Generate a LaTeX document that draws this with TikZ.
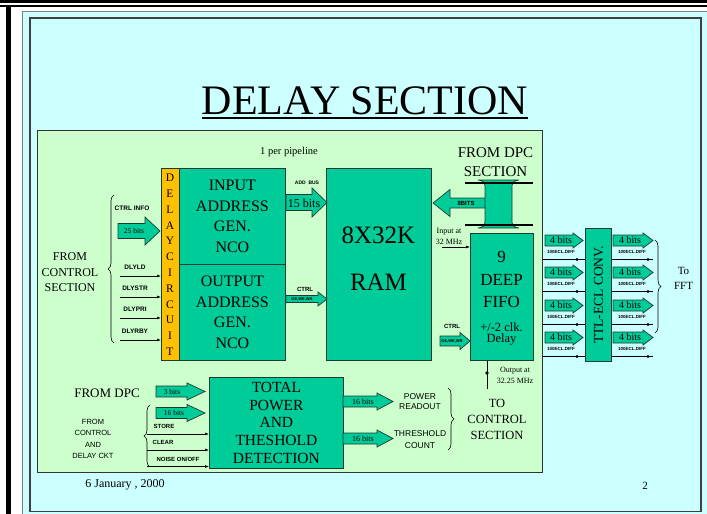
\documentclass[tikz,border=0pt]{standalone}
\usepackage{fontspec}
\setmainfont{Liberation Serif}
\setsansfont{Liberation Sans}
\usetikzlibrary{decorations.pathreplacing,arrows.meta,calc}
\definecolor{cyanbg}{HTML}{CCFFFF}
\definecolor{greenbg}{HTML}{CCFFCC}
\definecolor{tealc}{HTML}{00CC99}
\definecolor{orangec}{HTML}{FFC000}
\definecolor{edgec}{HTML}{1F3A32}
\newcommand\blockarrow[6]{%
  \filldraw[barr] ({#1},{#3-#4}) -- ({#2-(#6)},{#3-#4}) -- ({#2-(#6)},{#3-#5}) -- ({#2},{#3}) -- ({#2-(#6)},{#3+#5}) -- ({#2-(#6)},{#3+#4}) -- ({#1},{#3+#4}) -- cycle;}
\begin{document}
\begin{tikzpicture}[x=1pt,y=-1pt,
  blk/.style={draw=edgec, fill=tealc, line width=0.8pt, inner sep=0pt, anchor=north west, align=center},
  barr/.style={fill=tealc, draw=edgec, line width=0.7pt},
  lbl/.style={inner sep=0pt, font=\sffamily\bfseries\fontsize{6.5}{7}\selectfont},
  tiny/.style={inner sep=0pt, font=\sffamily\bfseries\fontsize{4.5}{5}\selectfont},
  sml/.style={inner sep=0pt, align=center, font=\sffamily\fontsize{7.5}{10}\selectfont},
  txt/.style={inner sep=0pt, align=center},
  sig/.style={line width=0.6pt, -{Latex[length=4pt,width=3pt]}},
  brc/.style={line width=0.6pt, decorate, decoration={brace, amplitude=6pt}}]
\useasboundingbox (0,0) rectangle (707,514);
% slide frame
\fill[white] (0,0) rectangle (707,514);
\fill[cyanbg] (22,11) rectangle (707,514);
\draw[gray, line width=0.6pt] (22,514) -- (22,11) -- (707,11);
\fill[black] (0,0) rectangle (707,2.5);
\fill[black] (0,4.5) rectangle (707,7);
\fill[black] (6,7) rectangle (11,514);
\draw[black!75, line width=1.3pt] (30,18) rectangle (701,511.5);
% title
\node[inner sep=0pt, anchor=base, font=\fontsize{42}{42}\selectfont] (title) at (365,114) {DELAY SECTION};
\draw[line width=2pt] ([yshift=-4pt]title.base west) -- ([yshift=-4pt]title.base east);
% panel
\node[draw=black!80, line width=1pt, fill=greenbg, minimum width=505pt, minimum height=342pt, anchor=north west, inner sep=0pt] (panel) at (37,130) {};
\node[txt, font=\fontsize{10.5}{11}\selectfont] (pp) at (289,152) {1 per pipeline};
% main blocks
\node[blk, fill=orangec, minimum width=18pt, minimum height=192pt] (dly) at (161,168) {};
\foreach \l [count=\i from 0] in {D,E,L,A,Y,C,I,R,C,U,I,T}
  \node[txt, font=\fontsize{11.5}{12}\selectfont] at (170,{178+\i*15.8}) {\l};
\node[blk, minimum width=106pt, minimum height=96pt, font=\fontsize{16}{20.7}\selectfont] (inb) at (179,168) {INPUT\\ADDRESS\\GEN.\\NCO};
\node[blk, minimum width=106pt, minimum height=96pt, font=\fontsize{16}{20.7}\selectfont] (outb) at (179,264) {OUTPUT\\ADDRESS\\GEN.\\NCO};
\node[blk, minimum width=105pt, minimum height=192pt] (ram) at (326,168) {};
\node[txt, font=\fontsize{25}{25}\selectfont] (ramt1) at (378.5,235) {8X32K};
\node[txt, font=\fontsize{25}{25}\selectfont] (ramt2) at (378.5,282) {RAM};
\node[blk, minimum width=63pt, minimum height=127pt] (fifo) at (470,233) {};
\node[txt, font=\fontsize{17}{17}\selectfont] (f1) at (501.5,257) {9};
\node[txt, font=\fontsize{17}{17}\selectfont] (f2) at (501.5,280) {DEEP};
\node[txt, font=\fontsize{17}{17}\selectfont] (f3) at (501.5,302) {FIFO};
\node[txt, font=\fontsize{12.5}{13}\selectfont] (f4) at (501.5,327) {+/-2 clk.};
\node[txt, font=\fontsize{12.5}{13}\selectfont] (f5) at (501.5,340) {Delay};
\node[blk, minimum width=26pt, minimum height=133pt] (ttl) at (585,228) {};
\node[txt, rotate=90, font=\fontsize{13.5}{14}\selectfont] (ttlt) at (ttl.center) {TTL-ECL CONV.};
\node[blk, minimum width=134pt, minimum height=91pt, font=\fontsize{15.5}{17.75}\selectfont] (tot) at (209,377) {TOTAL\\POWER\\AND\\THESHOLD\\DETECTION};
% texts
\node[txt, font=\fontsize{15}{19}\selectfont] (dpc) at (495.5,162.5) {FROM DPC\\SECTION};
\node[txt, font=\fontsize{12}{15.5}\selectfont] (fcs) at (70,272.5) {FROM\\CONTROL\\SECTION};
\node[txt, font=\fontsize{12.5}{16}\selectfont] (tcs) at (497,419) {TO\\CONTROL\\SECTION};
\node[txt, font=\fontsize{13}{13}\selectfont] (fdpc) at (107,393) {FROM DPC};
\node[sml, font=\sffamily\fontsize{7.5}{11.3}\selectfont] (fcd) at (93,439) {FROM\\CONTROL\\AND\\DELAY CKT};
\node[sml, font=\sffamily\fontsize{8.5}{10}\selectfont] (pr) at (420,402) {POWER\\READOUT};
\node[sml, font=\sffamily\fontsize{8.5}{12}\selectfont] (tc) at (420,440) {THRESHOLD\\COUNT};
\node[txt, font=\fontsize{11}{15}\selectfont] (fft) at (683.5,278.5) {To\\FFT};
\node[txt, font=\fontsize{12}{12}\selectfont] (date) at (125,485) {6 January , 2000};
\node[txt, font=\fontsize{11}{11}\selectfont] (pg) at (645,486) {2};
% block arrows
\blockarrow{286}{327}{202.5}{8}{14.5}{15}
\node[txt, font=\fontsize{12}{12}\selectfont] at (304,203) {15 bits};
\node[lbl, font=\sffamily\bfseries\fontsize{5}{6}\selectfont] at (307,183) {ADD\ \ BUS};
\blockarrow{118}{160}{231}{7.5}{14}{15}
\node[txt, font=\fontsize{7.5}{8}\selectfont] at (134,231) {25 bits};
\node[lbl] at (132,208) {CTRL INFO};
\blockarrow{286}{327}{299}{3.5}{7}{9}
\node[lbl, font=\sffamily\bfseries\fontsize{6}{7}\selectfont] at (305,289) {CTRL};
\node[tiny, font=\sffamily\bfseries\fontsize{4}{4}\selectfont] at (302,299.5) {OE,WE,WR};
\blockarrow{440}{470}{341}{5}{8.5}{10}
\node[lbl, font=\sffamily\bfseries\fontsize{6}{7}\selectfont] at (452,326) {CTRL};
\node[tiny, font=\sffamily\bfseries\fontsize{4}{4}\selectfont] at (452,341.5) {OE,WE,WR};
% bus from DPC
\blockarrow{490}{433}{203}{5}{13.5}{-17}
\node[lbl, font=\sffamily\bfseries\fontsize{6}{7}\selectfont] at (466,203.5) {8BITS};
\filldraw[barr] (478,180) .. controls (485,181) and (485,184) .. (485,188) -- (485,220) .. controls (485,224) and (485,227) .. (478,228) -- (519,228) .. controls (512,227) and (512,224) .. (512,220) -- (512,188) .. controls (512,184) and (512,181) .. (519,180) -- cycle;
\draw[line width=1.2pt] (465,183) -- (533,183);
\draw[line width=1.2pt] (465,225) -- (533,225);
% fifo in / out
\node[txt, font=\fontsize{8}{11}\selectfont] (inat) at (449,236.5) {Input at\\32 MHz};
\coordinate (fin) at (442,247);
\draw[sig] (fin) -- (fin -| fifo.west);
\coordinate (fout) at (487,360);
\draw[line width=0.6pt] (fout |- fifo.south) -- ++(0,28);
\fill (487,373) circle (1.8pt);
\node[txt, font=\fontsize{8}{11}\selectfont] (outat) at (515,375.5) {Output at\\32.25 MHz};
% left control lines
\foreach \y/\t in {276/DLYLD, 297/DLYSTR, 318/DLYPRI, 340/DLYRBY} {
  \coordinate (s) at (120,\y);
  \draw[sig] (s) -- (s -| dly.west);
  \node[lbl] at (135,{\y-9}) {\t};
}
\draw[brc] (114,343) -- (114,195);
% TTL-ECL arrows
\foreach \y in {240.5,272.5,305.5,337.5} {
  \blockarrow{545}{583}{\y}{5.5}{7.5}{10}
  \node[txt, font=\fontsize{10}{10}\selectfont] at (561,\y) {4 bits};
  \node[tiny] at (561,{\y+11.5}) {100ECL.DIFF};
  \coordinate (la) at (543,{\y+19});
  \draw[line width=0.6pt] (la) -- (la -| ttl.west);
  \fill (577,{\y+19}) circle (1.6pt);
  \blockarrow{613}{653}{\y}{5.5}{7.5}{10}
  \node[txt, font=\fontsize{10}{10}\selectfont] at (630,\y) {4 bits};
  \node[tiny] at (632,{\y+11.5}) {100ECL.DIFF};
  \coordinate (ra) at (653,{\y+19});
  \draw[line width=0.6pt] (ra -| ttl.east) -- (ra);
  \fill (648,{\y+19}) circle (1.6pt);
}
\draw[brc] (655,240) -- (655,333);
% bottom section
\blockarrow{156}{205}{391.5}{5.5}{8.5}{18}
\node[txt, font=\fontsize{7.5}{8}\selectfont] at (172,391.5) {3 bits};
\blockarrow{156}{205}{413}{5.5}{8.5}{18}
\node[txt, font=\fontsize{7.5}{8}\selectfont] at (174,413) {16 bits};
\coordinate (b1) at (147,434);
\draw[sig] (b1) -- (b1 -| tot.west);
\node[lbl, font=\sffamily\bfseries\fontsize{6}{7}\selectfont] at (164,426.5) {STORE};
\coordinate (b2) at (147,450);
\draw[sig] (b2) -- (b2 -| tot.west);
\node[lbl, font=\sffamily\bfseries\fontsize{6}{7}\selectfont] at (163,442.5) {CLEAR};
\coordinate (b3) at (147,466.5);
\draw[sig] (b3) -- (b3 -| tot.west);
\node[lbl, font=\sffamily\bfseries\fontsize{6}{7}\selectfont] at (178,459) {NOISE ON/OFF};
\draw[brc] (150,467) -- (150,405);
\blockarrow{343}{393}{401.5}{5.5}{8.5}{16}
\node[txt, font=\fontsize{8}{8}\selectfont] at (363,401.5) {16 bits};
\blockarrow{343}{393}{438.5}{5.5}{8.5}{16}
\node[txt, font=\fontsize{8}{8}\selectfont] at (363,438.5) {16 bits};
\draw[brc] (448,388) -- (448,450);
\end{tikzpicture}
\end{document}
